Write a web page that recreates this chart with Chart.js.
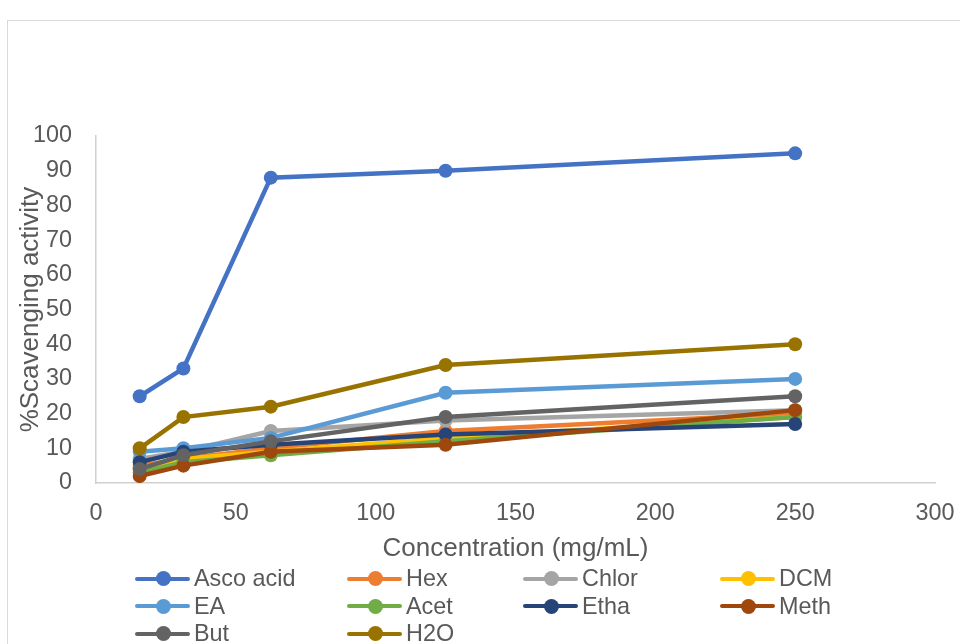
<!DOCTYPE html>
<html>
<head>
<meta charset="utf-8">
<script src="https://cdn.jsdelivr.net/npm/chart.js@4/dist/chart.umd.min.js"></script>
<style>
    html, body { margin: 0; padding: 0; background: #fff; overflow: hidden; }
    body { width: 960px; height: 644px; position: relative; font-family: "Liberation Sans", Arial, sans-serif; }
    #frame { position: absolute; left: 7px; top: 20px; width: 1000px; height: 700px; border: 1px solid #d9d9d9; box-sizing: border-box; }
    #wrap { position: absolute; left: 0; top: 0; width: 960px; height: 644px; }
    #legend {
        position: absolute; left: 135px; top: 565px;
        display: grid; grid-template-columns: 212px 176px 197px 200px; grid-auto-rows: 27.5px;
        font-size: 23.4px; color: #595959;
    }
    .item { display: flex; align-items: center; white-space: nowrap; }
    .sym { position: relative; width: 55px; height: 14px; margin-right: 4px; }
    .sym .ln { position: absolute; left: 0; right: 0; top: 5px; height: 4px; border-radius: 2px; }
    .sym .dot { position: absolute; left: 20.5px; top: -0.5px; width: 15px; height: 15px; border-radius: 50%; }
</style>
</head>
<body>
<div id="frame"></div>
<div id="wrap"><canvas id="chart" width="960" height="644"></canvas></div>
<div id="legend"></div>
<script>
// Concentrations (mg/mL)
const concentrations = [15.625, 31.25, 62.5, 125, 250];

// % scavenging activity per extract
const ascoAcid = [25, 33, 88, 90, 95];
const hex      = [5, 7, 10, 15, 20];
const chlor    = [7, 9, 15, 18, 21];
const dcm      = [4, 7, 9, 13, 19];
const ea       = [9, 10, 13, 26, 30];
const acet     = [3, 6, 8, 12, 19];
const etha     = [6, 9, 11, 14, 17];
const meth     = [2, 5, 9, 11, 21];
const but      = [4, 8, 12, 19, 25];
const h2o      = [10, 19, 22, 34, 40];

const seriesNames  = ['Asco acid', 'Hex', 'Chlor', 'DCM', 'EA', 'Acet', 'Etha', 'Meth', 'But', 'H2O'];
const seriesValues = [ascoAcid, hex, chlor, dcm, ea, acet, etha, meth, but, h2o];
const seriesColors = ['#4472C4', '#ED7D31', '#A5A5A5', '#FFC000', '#5B9BD5',
                      '#70AD47', '#264478', '#9E480E', '#636363', '#997300'];

const xTicks = [0, 50, 100, 150, 200, 250, 300];
const yTicks = [0, 10, 20, 30, 40, 50, 60, 70, 80, 90, 100];

const FONT = '"Liberation Sans", Arial, sans-serif';
const TEXT = '#595959';

const datasets = seriesNames.map((name, i) => ({
    label: name,
    data: concentrations.map((c, j) => ({ x: c, y: seriesValues[i][j] })),
    borderColor: seriesColors[i],
    backgroundColor: seriesColors[i],
    borderWidth: 4.5,
    pointRadius: 7,
    pointHoverRadius: 7,
    pointBorderWidth: 0,
    tension: 0,
    // later series drawn on top, like Excel
    order: seriesNames.length - i
}));

new Chart(document.getElementById('chart'), {
    type: 'line',
    data: { datasets },
    options: {
        responsive: false,
        animation: false,
        layout: { padding: { left: 15, top: 136, right: 25, bottom: 80 } },
        plugins: { legend: { display: false }, tooltip: { enabled: false } },
        scales: {
            x: {
                type: 'linear',
                min: xTicks[0],
                max: xTicks[xTicks.length - 1],
                afterBuildTicks: s => { s.ticks = xTicks.map(v => ({ value: v })); },
                afterFit: s => { s.height = 81; s.paddingLeft = 0; s.paddingRight = 0; },
                grid: { display: false, drawTicks: false },
                border: { display: true, color: '#d0d0d0', width: 1.5 },
                ticks: { color: TEXT, font: { family: FONT, size: 23.4 }, padding: 17, maxRotation: 0 },
                title: { display: true, text: 'Concentration (mg/mL)', color: TEXT,
                         font: { family: FONT, size: 26 }, padding: 0 }
            },
            y: {
                min: yTicks[0],
                max: yTicks[yTicks.length - 1],
                afterBuildTicks: s => { s.ticks = yTicks.map(v => ({ value: v })); },
                afterFit: s => { s.width = 81; },
                grid: { display: false, drawTicks: false },
                border: { display: true, color: '#d0d0d0', width: 1.5 },
                ticks: { color: TEXT, font: { family: FONT, size: 23.4 }, padding: 24 },
                title: { display: true, text: '%Scavenging activity', color: TEXT,
                         font: { family: FONT, size: 26 }, padding: 0 }
            }
        }
    }
});

// Legend in Excel's 4-column layout
const legend = document.getElementById('legend');
seriesNames.forEach((name, i) => {
    const item = document.createElement('div');
    item.className = 'item';
    item.innerHTML = '<span class="sym"><span class="ln" style="background:' + seriesColors[i] + '"></span>' +
        '<span class="dot" style="background:' + seriesColors[i] + '"></span></span><span>' + name + '</span>';
    legend.appendChild(item);
});
</script>
</body>
</html>
